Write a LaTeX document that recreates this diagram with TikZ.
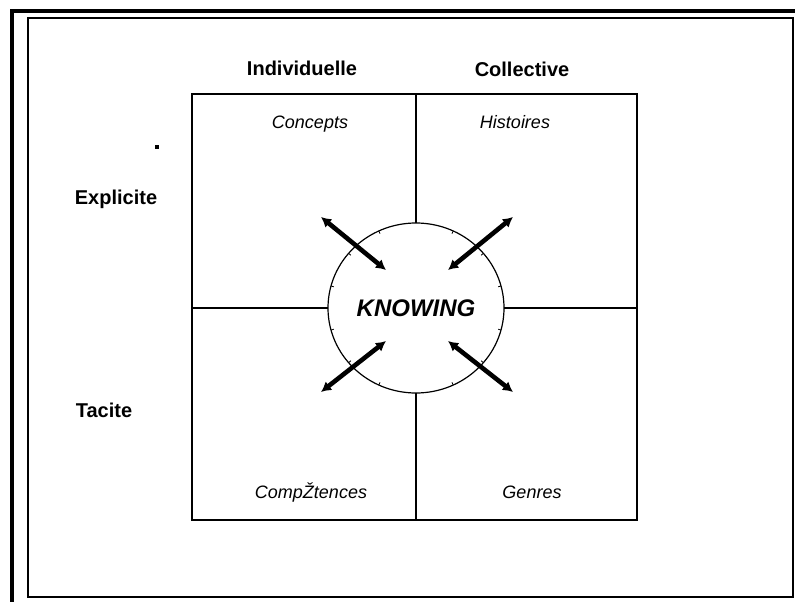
\documentclass[tikz,border=0pt]{standalone}
\usepackage{fontspec}
\setmainfont{Liberation Sans}
\usetikzlibrary{arrows.meta,shapes.geometric,calc}
\begin{document}
\begin{tikzpicture}[x=1pt,y=-1pt,
  frame/.style={line width=3.5pt},
  inframe/.style={line width=2pt},
  gridline/.style={line width=1.3pt},
  head/.style={font=\fontsize{20}{24}\selectfont\bfseries, anchor=base, inner sep=0pt},
  cell/.style={font=\fontsize{18}{22}\selectfont\itshape, anchor=base, inner sep=0pt},
  dbl/.style={line width=4.6pt, {Latex[length=10pt,width=11pt]}-{Latex[length=10pt,width=11pt]}},
  tick/.style={line width=0.8pt}]
\useasboundingbox (0,0) rectangle (795,602);
% frames
\draw[frame] (12,602) -- (12,11) -- (795,11);
\draw[inframe] (28,18) rectangle (793,597);
% grid coordinates
\coordinate (tl) at (192,94);
\coordinate (tm) at (416,94);
\coordinate (tr) at (637,94);
\coordinate (ml) at (192,308);
\coordinate (mr) at (637,308);
\coordinate (bl) at (192,520);
\coordinate (bm) at (416,520);
\coordinate (br) at (637,520);
\draw[gridline] (tl) rectangle (br);
\draw[gridline] (tm) -- (bm);
\draw[gridline] (ml) -- (mr);
% circle
\node[ellipse, draw, line width=1.2pt, fill=white, minimum width=176pt, minimum height=170pt, inner sep=0pt,
      font=\fontsize{24}{28}\selectfont\bfseries\itshape] (know) at (416,308) {KNOWING};
% ticks on the circle
\foreach \a in {15,40,65,115,140,165,195,220,245,295,320,345}{
  \draw[tick] ($(know.center)+(\a:88pt and -85pt)$) -- ($(know.center)+(\a:85pt and -82pt)$);
}
% arrows
\coordinate (nwo) at (321,217); \coordinate (nwi) at (386,270);
\coordinate (neo) at (513,217); \coordinate (nei) at (448,270);
\coordinate (swo) at (321,392); \coordinate (swi) at (386,341);
\coordinate (seo) at (513,392); \coordinate (sei) at (448,341);
\draw[dbl] (nwo) -- (nwi);
\draw[dbl] (neo) -- (nei);
\draw[dbl] (swo) -- (swi);
\draw[dbl] (seo) -- (sei);
% labels
\node[head] (ind) at (302,75) {Individuelle};
\node[head] (col) at (522,77) {Collective};
\node[head] (exp) at (116,204) {Explicite};
\node[head] (tac) at (104,417) {Tacite};
\node[cell] (con) at (310,128) {Concepts};
\node[cell] (his) at (515,128) {Histoires};
\node[cell] (com) at (311,498) {CompŽtences};
\node[cell] (gen) at (532,498) {Genres};
% small stray mark
\fill (155,145) rectangle (159,149);
\end{tikzpicture}
\end{document}
